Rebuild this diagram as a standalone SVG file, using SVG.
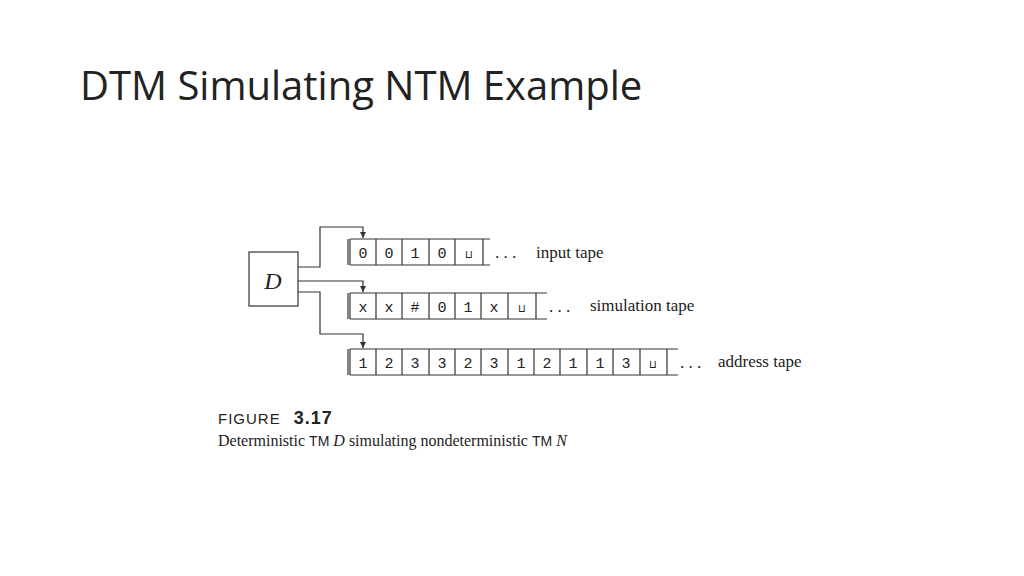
<svg xmlns="http://www.w3.org/2000/svg" width="1024" height="576" viewBox="0 0 1024 576">
<style>
.l{fill:none;stroke:#333;stroke-width:1.2}
.c{font-family:"Liberation Mono",monospace;font-size:15px;fill:#222;text-anchor:middle}
.t{font-family:"Liberation Serif",serif;font-size:17px;fill:#222}
.d{font-family:"Liberation Serif",serif;font-size:16px;fill:#222}
</style>
<defs><marker id="a" markerWidth="8" markerHeight="8" refX="6" refY="3" orient="auto" markerUnits="userSpaceOnUse"><path d="M0,0L6,3L0,6z" fill="#333"/></marker></defs>
<rect width="1024" height="576" fill="#fff"/>
<text x="80" y="100" font-family="Open Sans,sans-serif" font-size="40" fill="#222">DTM Simulating NTM Example</text>
<g id="D"><rect class="l" x="249" y="252" width="49" height="54"/><text x="273" y="289" font-family="Liberation Serif,serif" font-style="italic" font-size="24" text-anchor="middle" fill="#222">D</text></g>
<g id="connectors" class="l">
<path class="l" d="M298,267H320V227H363V238" marker-end="url(#a)"/>
<path class="l" d="M298,281H363V292" marker-end="url(#a)"/>
<path class="l" d="M298,292H320V334H363V348" marker-end="url(#a)"/>
</g>
<g id="input">
<path class="l" d="M350,239H490M350,265H490M348,239V265M350,239V265M376,239V265M402,239V265M429,239V265M455,239V265M483,239V265"/>
<text class="c" y="258"><tspan x="363">0</tspan><tspan x="389">0</tspan><tspan x="415">1</tspan><tspan x="442">0</tspan><tspan x="469" font-size="11">⊔</tspan></text>
<text class="t" x="495" y="258">. . .</text><text class="t" x="536" y="258">input tape</text>
</g>
<g id="sim">
<path class="l" d="M350,293H547M350,319H547M348,293V319M350,293V319M376,293V319M402,293V319M429,293V319M455,293V319M481,293V319M508,293V319M536,293V319"/>
<text class="c" y="312"><tspan x="363">x</tspan><tspan x="389">x</tspan><tspan x="415">#</tspan><tspan x="442">0</tspan><tspan x="468">1</tspan><tspan x="494">x</tspan><tspan x="522" font-size="11">⊔</tspan></text>
<text class="t" x="549" y="312">. . .</text><text class="t" x="590" y="311">simulation tape</text>
</g>
<g id="address">
<path class="l" d="M350,349H678M350,375H678M348,349V375M350,349V375M376,349V375M402,349V375M429,349V375M455,349V375M481,349V375M508,349V375M534,349V375M560,349V375M587,349V375M613,349V375M640,349V375M667,349V375"/>
<text class="c" y="368"><tspan x="363">1</tspan><tspan x="389">2</tspan><tspan x="415">3</tspan><tspan x="442">3</tspan><tspan x="468">2</tspan><tspan x="494">3</tspan><tspan x="521">1</tspan><tspan x="547">2</tspan><tspan x="573">1</tspan><tspan x="600">1</tspan><tspan x="626">3</tspan><tspan x="653" font-size="11">⊔</tspan></text>
<text class="t" x="680" y="368">. . .</text><text class="t" x="718" y="367">address tape</text>
</g>
<text x="218" y="424" font-family="Liberation Sans,sans-serif" font-size="15" fill="#222" letter-spacing="1">FIGURE <tspan font-weight="bold" font-size="18" dx="8">3.17</tspan></text>
<text class="d" x="218" y="446">Deterministic <tspan font-family="Liberation Sans,sans-serif" font-size="14">TM</tspan> <tspan font-style="italic">D</tspan> simulating nondeterministic <tspan font-family="Liberation Sans,sans-serif" font-size="14">TM</tspan> <tspan font-style="italic">N</tspan></text>
</svg>
